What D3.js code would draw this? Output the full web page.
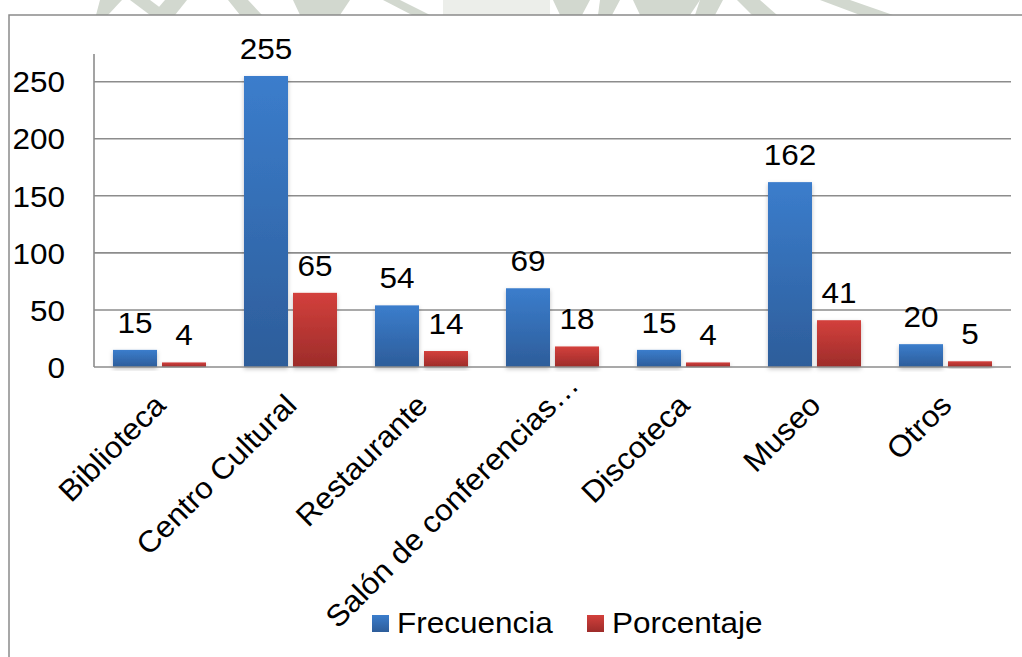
<!DOCTYPE html>
<html>
<head>
<meta charset="utf-8">
<script src="https://cdn.jsdelivr.net/npm/d3@7"></script>
<style>
  html, body { margin: 0; padding: 0; background: #fff; }
  svg { display: block; }
  text { font-family: "Liberation Sans", Arial, sans-serif; fill: #000; }
</style>
</head>
<body>
<svg id="chart" width="1022" height="657"></svg>
<script>
// ---- data ----
const categories = ["Biblioteca", "Centro Cultural", "Restaurante", "Salón de conferencias…", "Discoteca", "Museo", "Otros"];
const seriesNames = ["Frecuencia", "Porcentaje"];
const frecuencia = [15, 255, 54, 69, 15, 162, 20];
const porcentaje = [4, 65, 14, 18, 4, 41, 5];
const yTicks = [0, 50, 100, 150, 200, 250];

const seriesValues = [frecuencia, porcentaje];
const seriesColors = [["#3b7dcc", "#2d5d9a"], ["#d3403c", "#9d2c2a"]];

const svg = d3.select("#chart");
const W = 1022, H = 657;
const plot = { left: 94, right: 1011, top: 54, bottom: 367 };
const FS = 30, SX = 1.05;

// watermark hints at top (decorative, faded logo behind the chart frame)
const wm = svg.append("g").attr("fill", "#d2d8cf");
[[100,0,122,0,108,15,96,15],[130,0,150,0,170,15,150,15],[165,0,187,0,175,15,152,15],
 [228,0,248,0,262,15,240,15],[293,0,350,0,340,15,300,15],[383,0,400,0,430,15,412,15],
 [553,0,590,0,582,15,560,15],[600,0,620,0,612,15,598,15],[633,0,700,0,690,15,640,15],
 [700,0,723,0,715,15,695,15],[737,0,760,0,777,15,752,15],[820,0,850,0,893,15,860,15]]
 .forEach(p => {
   wm.append("polygon").attr("points", [[p[0],p[1]],[p[2],p[3]],[p[4],p[5]],[p[6],p[7]]].map(q=>q.join(",")).join(" "));
 });
svg.append("rect").attr("x", 443).attr("y", 0).attr("width", 107).attr("height", 15).attr("fill", "#eceeea");

// chart frame
svg.append("rect").attr("x", 9).attr("y", 15).attr("width", W + 20).attr("height", H + 20)
  .attr("fill", "#fff").attr("stroke", "#8a8a8a").attr("stroke-width", 1.5);

// defs: gradients and shadow
const defs = svg.append("defs");
seriesColors.forEach((c, i) => {
  const g = defs.append("linearGradient").attr("id", "grad" + i)
    .attr("x1", 0).attr("y1", 0).attr("x2", 0).attr("y2", 1);
  g.append("stop").attr("offset", "0%").attr("stop-color", c[0]);
  g.append("stop").attr("offset", "100%").attr("stop-color", c[1]);
});
const f = defs.append("filter").attr("id", "shadow").attr("x", "-20%").attr("y", "-20%").attr("width", "140%").attr("height", "140%");
f.append("feDropShadow").attr("dx", 0).attr("dy", 2).attr("stdDeviation", 2)
  .attr("flood-color", "#000").attr("flood-opacity", 0.25);

// scales
const x = d3.scaleBand().domain(categories).range([plot.left, plot.right]).paddingInner(0).paddingOuter(0);
const xs = d3.scaleBand().domain(seriesNames)
  .range([x.bandwidth() * 0.145, x.bandwidth() * 0.855]).paddingInner(0.102).paddingOuter(0);
const y = d3.scaleLinear().domain([0, 250]).range([plot.bottom, 81.7]);

// gridlines
svg.append("g").selectAll("line").data(yTicks.filter(t => t > 0)).join("line")
  .attr("x1", plot.left).attr("x2", plot.right)
  .attr("y1", d => y(d)).attr("y2", d => y(d))
  .attr("stroke", "#8c8c8c").attr("stroke-width", 1.6);

// y axis (tick values from the scale, drawn as slightly widened text)
const yAxis = d3.axisLeft(y).tickValues(yTicks).tickSize(0).tickFormat(d3.format("d"));
const yg = svg.append("g").attr("transform", `translate(${plot.left},0)`).call(yAxis);
yg.select(".domain").remove();
yg.selectAll(".tick text")
  .attr("x", 0).attr("dy", "0.34em")
  .attr("transform", `translate(-29,0) scale(${SX},1)`)
  .attr("font-size", FS).attr("font-family", "Liberation Sans, Arial, sans-serif")
  .attr("fill", "#000");
svg.append("line").attr("x1", plot.left).attr("x2", plot.left).attr("y1", plot.top).attr("y2", plot.bottom)
  .attr("stroke", "#8c8c8c").attr("stroke-width", 1.6);

// bars
const rows = [];
categories.forEach((c, ci) => seriesNames.forEach((s, si) => rows.push({ c, s, si, v: seriesValues[si][ci] })));

svg.append("g").selectAll("rect").data(rows).join("rect")
  .attr("x", d => x(d.c) + xs(d.s))
  .attr("width", xs.bandwidth())
  .attr("y", d => y(d.v))
  .attr("height", d => y(0) - y(d.v))
  .attr("fill", d => `url(#grad${d.si})`)
  .attr("filter", "url(#shadow)");

// x baseline
svg.append("line").attr("x1", plot.left).attr("x2", plot.right).attr("y1", y(0)).attr("y2", y(0))
  .attr("stroke", "#8c8c8c").attr("stroke-width", 1.6);

// value labels
svg.append("g").selectAll("text").data(rows).join("text")
  .attr("transform", d => `translate(${x(d.c) + xs(d.s) + xs.bandwidth() / 2},${y(d.v) - 17}) scale(${SX},1)`)
  .attr("text-anchor", "middle").attr("font-size", FS)
  .text(d => d.v);

// x category labels rotated (truncated label sits a bit further along its direction)
svg.append("g").selectAll("text").data(categories).join("text")
  .attr("transform", d => `translate(${x(d) + x.bandwidth() / 2 + 8},${407}) rotate(-45) scale(${SX},1)`)
  .attr("text-anchor", "end").attr("font-size", FS)
  .attr("dx", d => d.endsWith("…") ? 27 : 0)
  .text(d => d);

// legend
const legend = [{ sx: 372, tx: 397 }, { sx: 587, tx: 612 }];
const lg = svg.append("g");
legend.forEach((l, i) => {
  lg.append("rect").attr("x", l.sx).attr("y", 615).attr("width", 17).attr("height", 17)
    .attr("fill", `url(#grad${i})`);
  lg.append("text").attr("transform", `translate(${l.tx},633) scale(${SX},1)`)
    .attr("font-size", FS).text(seriesNames[i]);
});
</script>
</body>
</html>
